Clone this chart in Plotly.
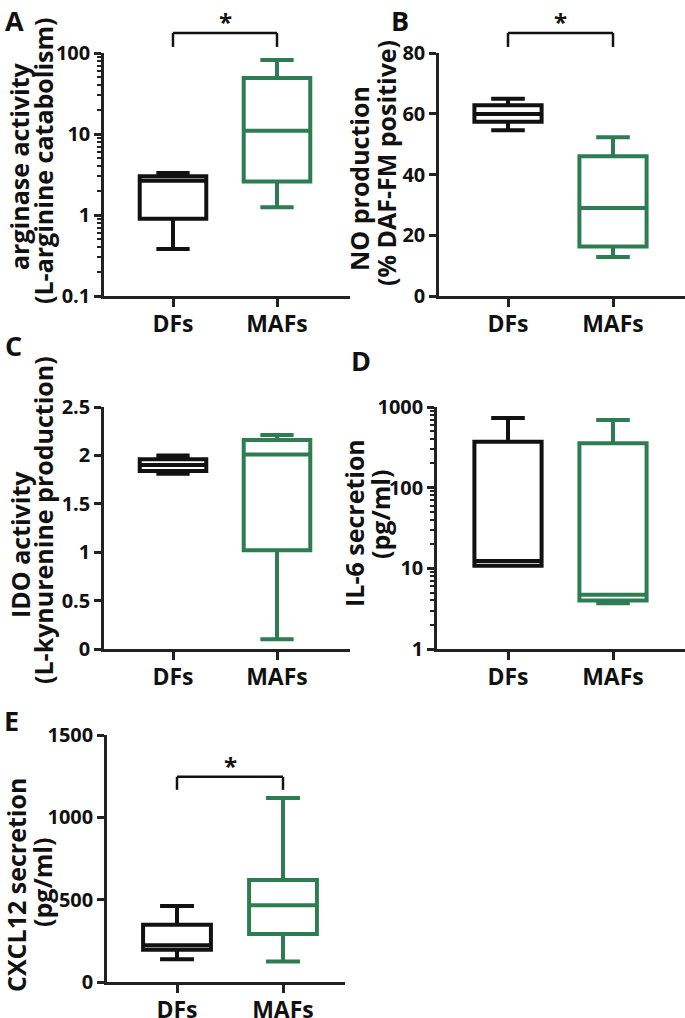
import math
import plotly.graph_objects as go

# ---------------- data ----------------
CATEGORIES = ["DFs", "MAFs"]

# A: arginase activity (L-arginine catabolism), log axis
A_MIN = [0.38, 1.25]
A_Q1 = [0.9, 2.6]
A_MED = [2.65, 11.0]
A_Q3 = [3.0, 49.0]
A_MAX = [3.3, 82.0]
A_TICKS = [0.1, 1, 10, 100]
A_BRACKET = [177, 119]          # bracket top / leg end (data units)

# B: NO production (% DAF-FM positive)
B_MIN = [54.6, 12.8]
B_Q1 = [57.4, 16.3]
B_MED = [59.9, 29.0]
B_Q3 = [62.8, 46.0]
B_MAX = [64.9, 52.3]
B_TICKS = [0, 20, 40, 60, 80]
B_BRACKET = [86.6, 82.0]

# C: IDO activity (L-kynurenine production)
C_MIN = [1.81, 0.10]
C_Q1 = [1.84, 1.02]
C_MED = [1.90, 2.01]
C_Q3 = [1.96, 2.16]
C_MAX = [2.00, 2.21]
C_TICKS = [0, 0.5, 1, 1.5, 2, 2.5]

# D: IL-6 secretion (pg/ml), log axis
D_MIN = [10.8, 3.7]
D_Q1 = [10.8, 4.0]
D_MED = [12.3, 4.7]
D_Q3 = [370, 355]
D_MAX = [730, 690]
D_TICKS = [1, 10, 100, 1000]

# E: CXCL12 secretion (pg/ml)
E_MIN = [138, 124]
E_Q1 = [196, 292]
E_MED = [223, 466]
E_Q3 = [347, 620]
E_MAX = [462, 1117]
E_TICKS = [0, 500, 1000, 1500]
E_BRACKET = [1246, 1167]

# ---------------- style ----------------
W, H = 685, 1018
BLACK = "#111111"
GREEN = "#2E7D52"
AX = "#222222"
FONT = "Open Sans"
COLORS = [BLACK, GREEN]

panels = [
    dict(letter="A", stats=(A_MIN, A_Q1, A_MED, A_Q3, A_MAX), ticks=A_TICKS, log=True,
         xpx=(104, 350), ypx=(53, 296), cx=(173, 277), bracket=A_BRACKET,
         letter_pos=(3, 0),
         titles=[("arginase activity", 19, 166), ("(L-arginine catabolism)", 43, 161)]),
    dict(letter="B", stats=(B_MIN, B_Q1, B_MED, B_Q3, B_MAX), ticks=B_TICKS, log=False,
         xpx=(439, 685), ypx=(53, 296), cx=(508, 613), bracket=B_BRACKET,
         letter_pos=(389, 0),
         titles=[("NO production", 359, 179), ("(% DAF-FM positive)", 386, 163)]),
    dict(letter="C", stats=(C_MIN, C_Q1, C_MED, C_Q3, C_MAX), ticks=C_TICKS, log=False,
         xpx=(104, 350), ypx=(407, 649), cx=(173, 277), bracket=None,
         letter_pos=(3, 325),
         titles=[("IDO activity", 20, 545), ("(L-kynurenine production)", 43, 520)]),
    dict(letter="D", stats=(D_MIN, D_Q1, D_MED, D_Q3, D_MAX), ticks=D_TICKS, log=True,
         xpx=(437, 685), ypx=(407, 649), cx=(508, 613), bracket=None,
         letter_pos=(349, 340),
         titles=[("IL-6 secretion", 354, 523), ("(pg/ml)", 380, 515)]),
    dict(letter="E", stats=(E_MIN, E_Q1, E_MED, E_Q3, E_MAX), ticks=E_TICKS, log=False,
         xpx=(107, 345), ypx=(735, 982), cx=(177, 283), bracket=E_BRACKET,
         letter_pos=(2, 700),
         titles=[("CXCL12 secretion", 16, 885), ("(pg/ml)", 42, 883)]),
]

fig = go.Figure()
annotations = []
shapes = []

for i, p in enumerate(panels):
    n = "" if i == 0 else str(i + 1)
    xa, ya = "x" + n, "y" + n
    lo, q1, med, q3, hi = p["stats"]
    for j, cat in enumerate(CATEGORIES):
        fig.add_trace(go.Box(
            x=[cat], lowerfence=[lo[j]], q1=[q1[j]], median=[med[j]], q3=[q3[j]],
            upperfence=[hi[j]], width=0.64, whiskerwidth=0.5,
            fillcolor="white", line=dict(color=COLORS[j], width=4),
            boxpoints=False, showlegend=False, hoverinfo="skip",
            xaxis=xa, yaxis=ya))

    x0p, x1p = p["xpx"]
    ytop, ybot = p["ypx"]
    c0, c1 = p["cx"]
    step = c1 - c0
    xr = [-(c0 - x0p) / step, 1 + (x1p - c1) / step]
    ticks = p["ticks"]
    if p["log"]:
        yr = [math.log10(ticks[0]), math.log10(ticks[-1])]
    else:
        yr = [ticks[0], ticks[-1]]

    xkey = "xaxis" + n
    ykey = "yaxis" + n
    xaxis = dict(domain=[x0p / W, x1p / W], range=xr, type="category",
                 categoryorder="array", categoryarray=CATEGORIES,
                 showline=True, linecolor=AX, linewidth=2.5,
                 ticks="outside", ticklen=8, tickwidth=2.5, tickcolor=AX,
                 ticklabelstandoff=-2,
                 showgrid=False, zeroline=False, anchor=ya, automargin=False,
                 tickfont=dict(family=FONT, size=23, color=BLACK, weight="bold"))
    yaxis = dict(domain=[1 - ybot / H, 1 - ytop / H], range=yr,
                 showline=True, linecolor=AX, linewidth=2.5,
                 ticks="outside", ticklen=7, tickwidth=2.5, tickcolor=AX,
                 showgrid=False, zeroline=False, anchor=xa, automargin=False,
                 tickvals=ticks, ticktext=[("%g" % t) for t in ticks],
                 tickfont=dict(family=FONT, size=20, color=BLACK, weight="bold"))
    if p["log"]:
        yaxis["type"] = "log"
        yaxis["minor"] = dict(ticks="outside", ticklen=4, tickwidth=1.5,
                              tickcolor=AX, dtick="D1", showgrid=False)
    fig.layout[xkey] = xaxis
    fig.layout[ykey] = yaxis

    # panel letter
    lx, ly = p["letter_pos"]
    annotations.append(dict(text=p["letter"], xref="paper", yref="paper",
                            x=lx / W, y=1 - ly / H, xanchor="left", yanchor="top",
                            showarrow=False,
                            font=dict(family=FONT, size=27, color=BLACK, weight="bold")))
    # axis titles
    for txt, tx, ty in p["titles"]:
        annotations.append(dict(text=txt, xref="paper", yref="paper",
                                x=tx / W, y=1 - ty / H, xanchor="center", yanchor="middle",
                                textangle=-90, showarrow=False,
                                font=dict(family=FONT, size=25, color=BLACK, weight="bold")))

    # significance bracket
    if p["bracket"]:
        f = (lambda v: math.log10(v)) if p["log"] else (lambda v: v)
        top = (f(p["bracket"][0]) - yr[0]) / (yr[1] - yr[0])
        leg = (f(p["bracket"][1]) - yr[0]) / (yr[1] - yr[0])
        yd = ya + " domain"
        line = dict(color=BLACK, width=2.5)
        shapes.append(dict(type="line", xref=xa, yref=yd, x0=0, x1=1, y0=top, y1=top, line=line))
        shapes.append(dict(type="line", xref=xa, yref=yd, x0=0, x1=0, y0=top, y1=leg, line=line))
        shapes.append(dict(type="line", xref=xa, yref=yd, x0=1, x1=1, y0=top, y1=leg, line=line))
        annotations.append(dict(text="*", xref=xa, yref=yd, x=0.5, y=top,
                                xanchor="center", yanchor="middle", yshift=11,
                                showarrow=False,
                                font=dict(family=FONT, size=24, color=BLACK, weight="bold")))

fig.update_layout(template="none", width=W, height=H, margin=dict(l=0, r=0, t=0, b=0, pad=0),
                  paper_bgcolor="white", plot_bgcolor="white",
                  boxmode="overlay", showlegend=False,
                  annotations=annotations, shapes=shapes)

fig.write_html("out.html", config={"displayModeBar": False},
               post_script="document.body.style.margin='0px';")
